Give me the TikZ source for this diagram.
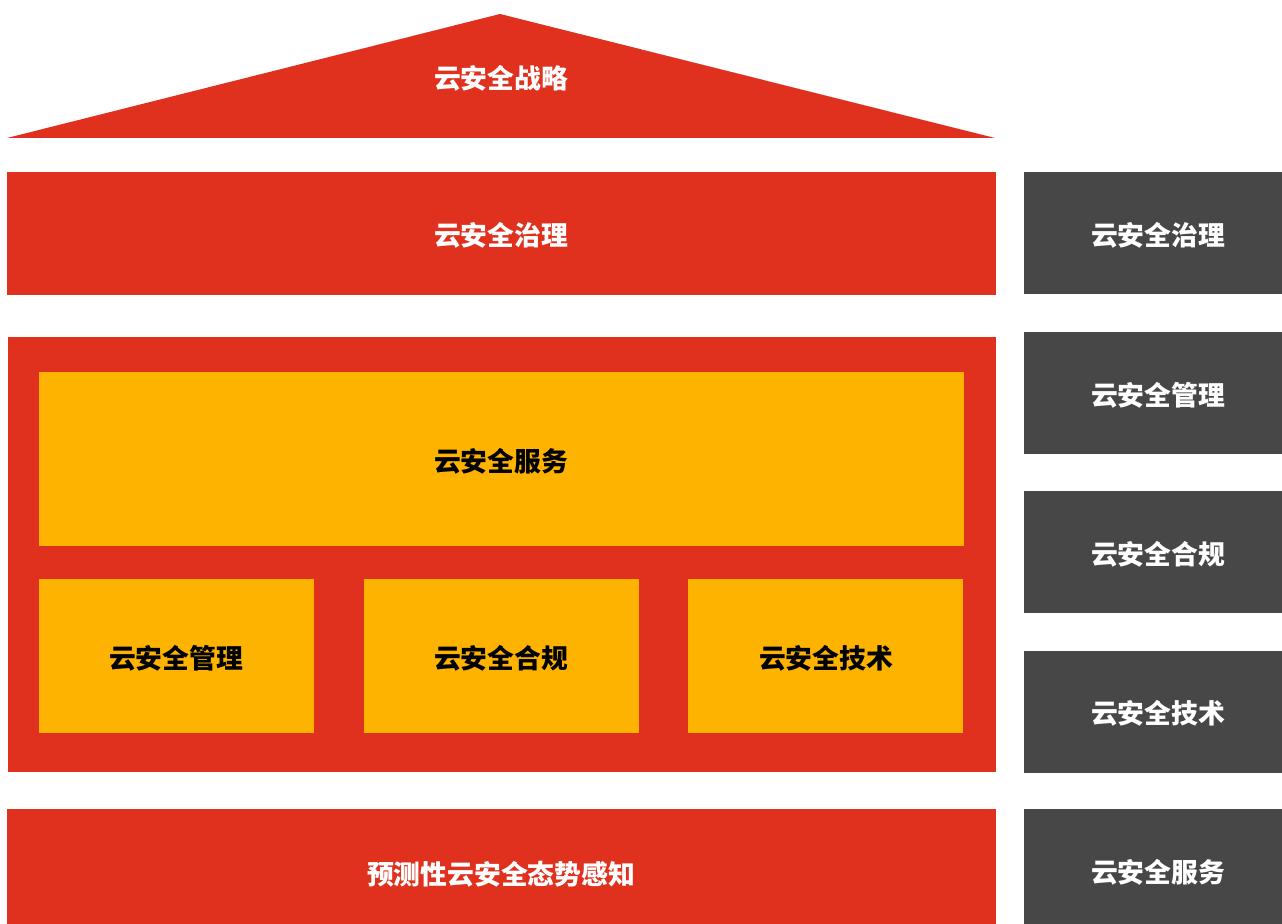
\documentclass[tikz,border=0pt]{standalone}
\usepackage{fontspec}
\setmainfont{Noto Sans CJK SC}
\definecolor{cred}{HTML}{E0311F}
\definecolor{cyel}{HTML}{FDB300}
\definecolor{cgray}{HTML}{474747}
\tikzset{
  lblw/.style={text=white,font=\fontsize{13.4}{15}\selectfont\bfseries,inner sep=0pt},
  lblk/.style={text=black,font=\fontsize{13.4}{15}\selectfont\bfseries,inner sep=0pt},
}
\begin{document}
\begin{tikzpicture}[x=0.5pt,y=-0.5pt]
\useasboundingbox (0,0) rectangle (1282,924);
% roof
\fill[cred] (500,14) -- (995,138) -- (7,138) -- cycle;
\node[lblw] (strategy) at (501,78) {云安全战略};
% governance bar
\fill[cred] (7,172) rectangle (996,295);
\node[lblw] (gov) at (501,235) {云安全治理};
% main body
\fill[cred] (8,337) rectangle (996,772);
\fill[cyel] (39,372) rectangle (964,546);
\node[lblk] (service) at (501,461) {云安全服务};
\fill[cyel] (39,579) rectangle (314,733);
\node[lblk] (mgmt) at (176,658) {云安全管理};
\fill[cyel] (364,579) rectangle (639,733);
\node[lblk] (comp) at (501,658) {云安全合规};
\fill[cyel] (688,579) rectangle (963,733);
\node[lblk] (tech) at (826,658) {云安全技术};
% bottom
\fill[cred] (7,809) rectangle (996,924);
\node[lblw] (aware) at (501,874) {预测性云安全态势感知};
% right column
\fill[cgray] (1024,172) rectangle (1282,294);
\node[lblw] (rgov) at (1158,235) {云安全治理};
\fill[cgray] (1024,332) rectangle (1282,454);
\node[lblw] (rmgmt) at (1158,395) {云安全管理};
\fill[cgray] (1024,491) rectangle (1282,613);
\node[lblw] (rcomp) at (1158,554) {云安全合规};
\fill[cgray] (1024,651) rectangle (1282,773);
\node[lblw] (rtech) at (1158,713) {云安全技术};
\fill[cgray] (1024,809) rectangle (1282,924);
\node[lblw] (rserv) at (1158,872) {云安全服务};
\end{tikzpicture}
\end{document}
